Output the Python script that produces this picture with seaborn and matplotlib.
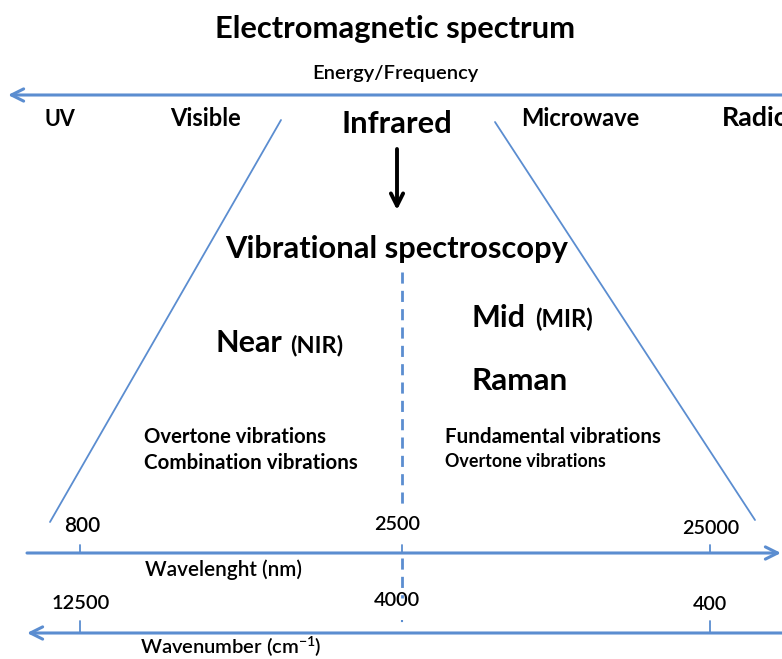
import matplotlib
matplotlib.use("Agg")
import matplotlib.pyplot as plt
import seaborn as sns
import pandas as pd

# ---- content ----
title = "Electromagnetic spectrum"
energy_label = "Energy/Frequency"
regions = ["UV", "Visible", "Infrared", "Microwave", "Radio"]
subtitle = "Vibrational spectroscopy"
near_label, near_abbr = "Near", "(NIR)"
mid_label, mid_abbr = "Mid", "(MIR)"
raman_label = "Raman"
near_vibrations = ["Overtone vibrations", "Combination vibrations"]
mid_vibrations = ["Fundamental vibrations", "Overtone vibrations"]
wavelength_ticks = ["800", "2500", "25000"]
wavenumber_ticks = ["12500", "4000", "400"]
wavelength_title = "Wavelenght (nm)"
wavenumber_title = "Wavenumber (cm$^{-1}$)"

# ---- style ----
sns.set_theme(style="white")
plt.rcParams["font.family"] = ["Lato", "DejaVu Sans"]
plt.rcParams["mathtext.fontset"] = "custom"
plt.rcParams["mathtext.rm"] = "Lato:semibold"
plt.rcParams["mathtext.it"] = "Lato:italic"
plt.rcParams["mathtext.bf"] = "Lato:bold"
BLUE = "#5b8dd0"
PLAIN = "semibold"

W, H = 782, 659
fig = plt.figure(figsize=(W / 100, H / 100), dpi=100)
ax = fig.add_axes([0, 0, 1, 1])
renderer = fig.canvas.get_renderer()


def put(x, y, s, width, ha="left", weight="bold"):
    t = ax.text(x, y, s, ha=ha, va="baseline", fontsize=10, fontweight=weight, color="black")
    w = t.get_window_extent(renderer).width
    t.set_fontsize(10 * width / w)
    return t


# cone edges
edges = pd.DataFrame({
    "x": [281, 50, 495, 755],
    "y": [120, 522, 122, 520],
    "edge": ["left", "left", "right", "right"],
})
for e in ["left", "right"]:
    sub = edges[edges["edge"] == e]
    sns.lineplot(data=sub, x="x", y="y", sort=False, ax=ax, color=BLUE, lw=1.3,
                 estimator=None, legend=False)
ax.set_xlim(0, W)
ax.set_ylim(H, 0)
ax.axis("off")

# title texts
put(395, 38, title, 360, ha="center")
put(395, 79, energy_label, 165, ha="center", weight=PLAIN)

# top arrow (energy)
ax.annotate("", xy=(8, 95), xytext=(782, 95),
            arrowprops=dict(arrowstyle="->", lw=2.2, color=BLUE, mutation_scale=22,
                            shrinkA=0, shrinkB=0))

# region labels
region_pos = [(44, 126, 31), (170, 126, 71), (342, 133, 111), (521, 126, 119), (722, 126, 68)]
for name, (x, y, w) in zip(regions, region_pos):
    put(x, y, name, w)

# down arrow
ax.annotate("", xy=(397, 210), xytext=(397, 149),
            arrowprops=dict(arrowstyle="->", lw=2.8, color="black", mutation_scale=22,
                            shrinkA=0, shrinkB=0))

put(397, 258, subtitle, 343, ha="center")

# dashed separator
ax.plot([402, 402], [272, 508], color=BLUE, lw=2, ls=(0, (4, 2.6)))
ax.plot([402, 402], [558, 598], color=BLUE, lw=2, ls=(0, (4, 2.6)))
ax.plot([402, 402], [620, 630], color=BLUE, lw=1.5, ls=(0, (1, 4)))

# technique labels
put(216, 352, near_label, 67)
put(290, 352, near_abbr, 53)
put(472, 327, mid_label, 54)
put(535, 327, mid_abbr, 58)
put(472, 390, raman_label, 96)

put(144, 443, near_vibrations[0], 182)
put(144, 469, near_vibrations[1], 214)
put(445, 443, mid_vibrations[0], 216)
put(445, 467, mid_vibrations[1], 161)

# wavelength axis
ax.annotate("", xy=(781, 553), xytext=(27, 553),
            arrowprops=dict(arrowstyle="->", lw=2.2, color=BLUE, mutation_scale=22,
                            shrinkA=0, shrinkB=0))
tick_x = [80, 402, 710]
for x in tick_x:
    ax.plot([x, x], [545, 553], color=BLUE, lw=1.3)
wl_pos = [(82, 532, 36), (397, 530, 46), (711, 534, 57)]
for lab, (x, y, w) in zip(wavelength_ticks, wl_pos):
    put(x, y, lab, w, ha="center", weight=PLAIN)
put(145, 576, wavelength_title, 157, weight=PLAIN)

# wavenumber axis
ax.annotate("", xy=(27, 633), xytext=(782, 633),
            arrowprops=dict(arrowstyle="->", lw=2.2, color=BLUE, mutation_scale=22,
                            shrinkA=0, shrinkB=0))
for x in [80, 710]:
    ax.plot([x, x], [621, 633], color=BLUE, lw=1.3)
wn_pos = [(81, 609, 58), (397, 606, 46), (710, 610, 34)]
for lab, (x, y, w) in zip(wavenumber_ticks, wn_pos):
    put(x, y, lab, w, ha="center", weight=PLAIN)
put(140, 654, wavenumber_title, 182, weight=PLAIN)

fig.savefig("out.png", dpi=100)
